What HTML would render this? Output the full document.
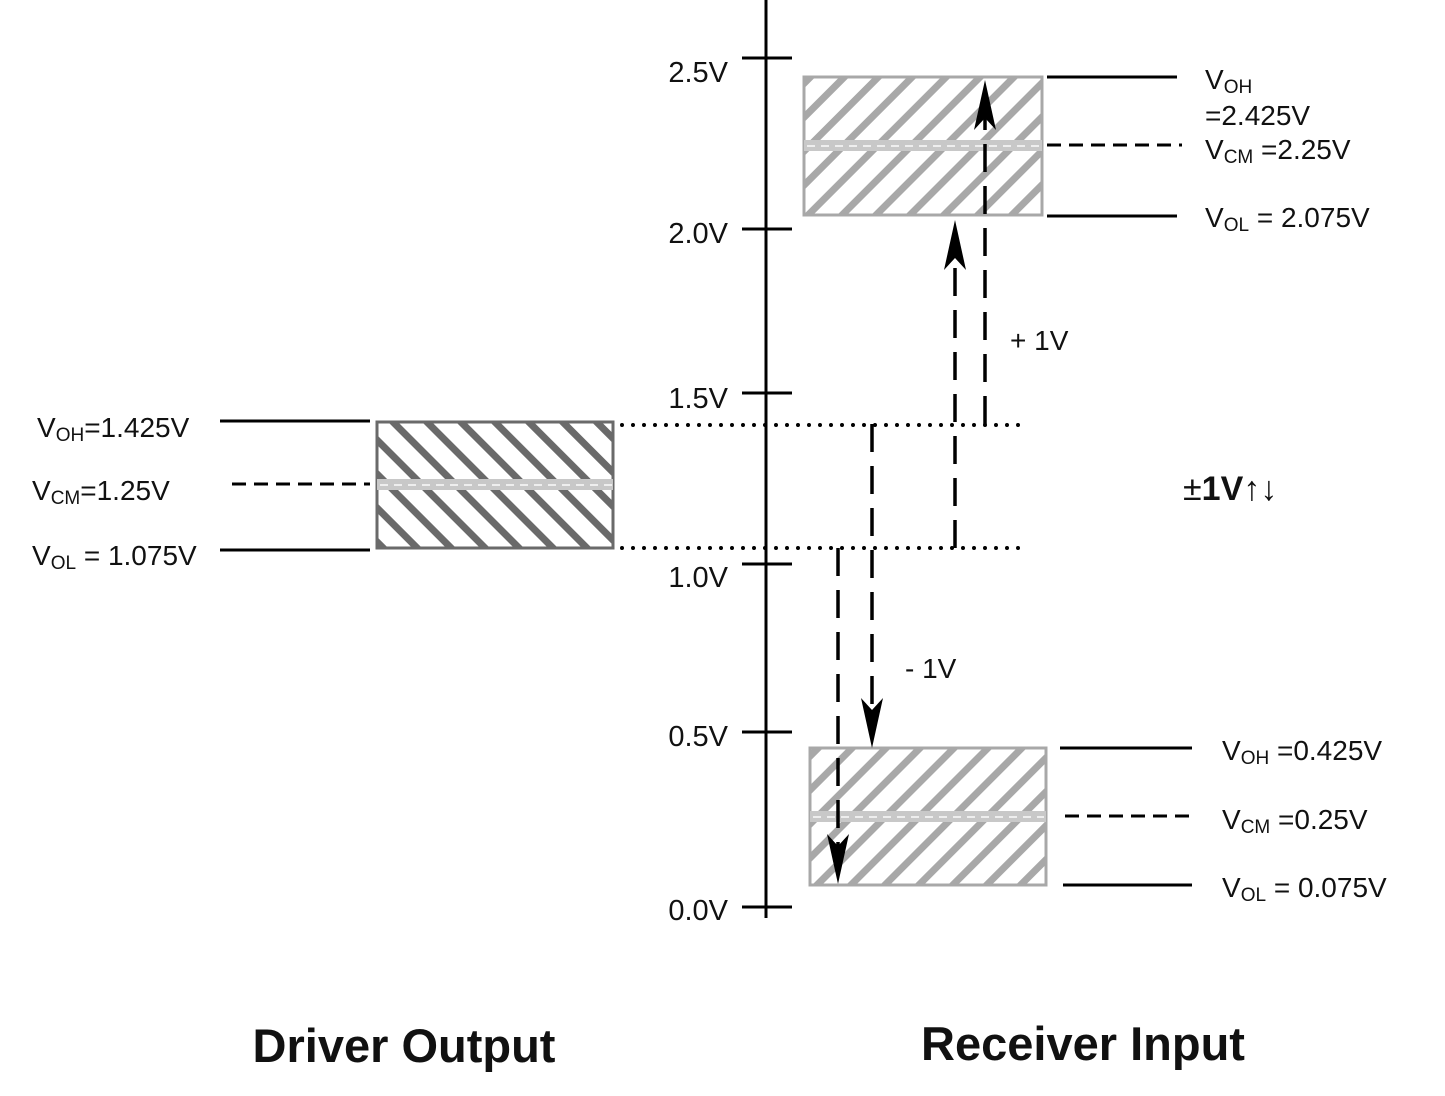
<!DOCTYPE html>
<html><head><meta charset="utf-8"><style>
html,body{margin:0;padding:0;background:#fff;}
svg{display:block;}
text{font-family:"Liberation Sans",Arial,sans-serif;fill:#111;}
</style></head><body>
<svg width="1445" height="1096" viewBox="0 0 1445 1096" xmlns="http://www.w3.org/2000/svg">
<defs>
<pattern id="pd" width="24" height="24" patternUnits="userSpaceOnUse" patternTransform="rotate(-45)">
<rect width="24" height="24" fill="#fff"/><rect x="0" y="0" width="7" height="24" fill="#6a6a6a"/>
</pattern>
<pattern id="pl" width="24" height="24" patternUnits="userSpaceOnUse" patternTransform="rotate(45)">
<rect width="24" height="24" fill="#fff"/><rect x="0" y="0" width="7" height="24" fill="#a8a8a8"/>
</pattern>
</defs>

<!-- axis -->
<line x1="766" y1="0" x2="766" y2="918" stroke="#000" stroke-width="3"/>
<g stroke="#000" stroke-width="3">
<line x1="742" y1="58" x2="792" y2="58"/>
<line x1="742" y1="229" x2="792" y2="229"/>
<line x1="742" y1="393" x2="792" y2="393"/>
<line x1="742" y1="564" x2="792" y2="564"/>
<line x1="742" y1="732" x2="792" y2="732"/>
<line x1="742" y1="907" x2="792" y2="907"/>
</g>
<g font-size="29" text-anchor="end">
<text x="728" y="82">2.5V</text>
<text x="728" y="243">2.0V</text>
<text x="728" y="408">1.5V</text>
<text x="728" y="587">1.0V</text>
<text x="728" y="746">0.5V</text>
<text x="728" y="920">0.0V</text>
</g>

<!-- driver box -->
<rect x="377" y="422" width="236" height="126" fill="url(#pd)" stroke="#6a6a6a" stroke-width="3"/>
<rect x="377" y="479" width="236" height="11" fill="#c8c8c8"/>
<line x1="380" y1="485" x2="612" y2="485" stroke="#eee" stroke-width="2" stroke-dasharray="8 6"/>

<!-- receiver top box -->
<rect x="804" y="77" width="238" height="138" fill="url(#pl)" stroke="#a8a8a8" stroke-width="3"/>
<rect x="804" y="140" width="238" height="11" fill="#c8c8c8"/>
<line x1="807" y1="146" x2="1040" y2="146" stroke="#eee" stroke-width="2" stroke-dasharray="8 6"/>

<!-- receiver bottom box -->
<rect x="810" y="748" width="236" height="137" fill="url(#pl)" stroke="#a8a8a8" stroke-width="3"/>
<rect x="810" y="811" width="236" height="11" fill="#c8c8c8"/>
<line x1="813" y1="817" x2="1044" y2="817" stroke="#eee" stroke-width="2" stroke-dasharray="8 6"/>

<!-- level lines -->
<g stroke="#000" stroke-width="3">
<line x1="220" y1="421" x2="370" y2="421"/>
<line x1="232" y1="484" x2="370" y2="484" stroke-dasharray="14 8"/>
<line x1="220" y1="550" x2="370" y2="550"/>
<line x1="1047" y1="77" x2="1177" y2="77"/>
<line x1="1047" y1="145" x2="1182" y2="145" stroke-dasharray="14 8"/>
<line x1="1047" y1="216" x2="1177" y2="216"/>
<line x1="1060" y1="748" x2="1192" y2="748"/>
<line x1="1065" y1="816" x2="1197" y2="816" stroke-dasharray="14 8"/>
<line x1="1063" y1="885" x2="1192" y2="885"/>
</g>

<!-- dotted -->
<g stroke="#000" stroke-width="4" stroke-linecap="round" stroke-dasharray="0 11">
<line x1="622" y1="425" x2="1026" y2="425"/>
<line x1="622" y1="548" x2="1026" y2="548"/>
</g>

<!-- dashed arrows -->
<g stroke="#000" stroke-width="3.5" stroke-dasharray="28 14">
<line x1="985" y1="424" x2="985" y2="110"/>
<line x1="955" y1="548" x2="955" y2="250"/>
<line x1="872" y1="424" x2="872" y2="720"/>
<line x1="838" y1="548" x2="838" y2="860"/>
</g>
<g fill="#000">
<path d="M985 80 L996 130 L985 118 L974 130 Z"/>
<path d="M955 220 L966 270 L955 258 L944 270 Z"/>
<path d="M872 748 L883 698 L872 710 L861 698 Z"/>
<path d="M838 884 L849 834 L838 846 L827 834 Z"/>
</g>

<!-- labels -->
<g font-size="28">
<text x="37" y="437">V<tspan font-size="19" dy="4">OH</tspan><tspan dy="-4">=1.425V</tspan></text>
<text x="32" y="500">V<tspan font-size="19" dy="4">CM</tspan><tspan dy="-4">=1.25V</tspan></text>
<text x="32" y="565">V<tspan font-size="19" dy="4">OL</tspan><tspan dy="-4"> = 1.075V</tspan></text>

<text x="1205" y="89">V<tspan font-size="19" dy="4">OH</tspan></text>
<text x="1205" y="125">=2.425V</text>
<text x="1205" y="159">V<tspan font-size="19" dy="4">CM</tspan><tspan dy="-4"> =2.25V</tspan></text>
<text x="1205" y="227">V<tspan font-size="19" dy="4">OL</tspan><tspan dy="-4"> = 2.075V</tspan></text>

<text x="1222" y="760">V<tspan font-size="19" dy="4">OH</tspan><tspan dy="-4"> =0.425V</tspan></text>
<text x="1222" y="829">V<tspan font-size="19" dy="4">CM</tspan><tspan dy="-4"> =0.25V</tspan></text>
<text x="1222" y="897">V<tspan font-size="19" dy="4">OL</tspan><tspan dy="-4"> = 0.075V</tspan></text>

<text x="1010" y="350">+ 1V</text>
<text x="905" y="678">- 1V</text>
</g>
<text x="1183" y="500" font-size="34"><tspan>±</tspan><tspan font-weight="bold">1V</tspan><tspan>↑↓</tspan></text>

<text x="404" y="1062" font-size="47" font-weight="bold" text-anchor="middle">Driver Output</text>
<text x="1083" y="1060" font-size="47" font-weight="bold" text-anchor="middle">Receiver Input</text>
</svg>
</body></html>
